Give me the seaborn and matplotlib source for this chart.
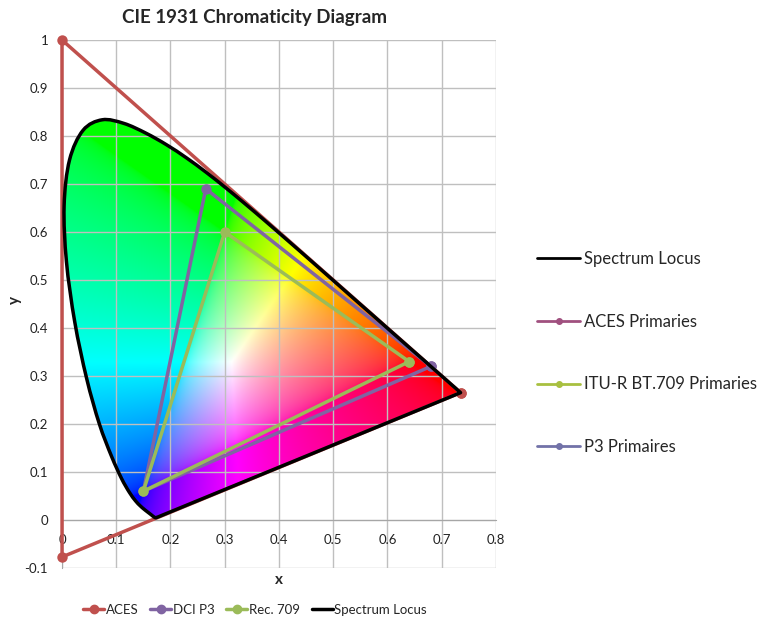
import numpy as np
import matplotlib
matplotlib.use('Agg')
import matplotlib.pyplot as plt
from matplotlib.patches import PathPatch
from matplotlib.path import Path
from matplotlib.lines import Line2D
import seaborn as sns

sns.set_style('white')
plt.rcParams['font.family'] = ['Lato', 'DejaVu Sans']

# CIE 1931 2 degree spectral locus, 380-700 nm in 5 nm steps
locus_x = [0.1741, 0.1740, 0.1738, 0.1736, 0.1733, 0.1730, 0.1726, 0.1721, 0.1714, 0.1703,
           0.1689, 0.1669, 0.1644, 0.1611, 0.1566, 0.1510, 0.1440, 0.1355, 0.1241, 0.1096,
           0.0913, 0.0687, 0.0454, 0.0235, 0.0082, 0.0039, 0.0139, 0.0389, 0.0743, 0.1142,
           0.1547, 0.1929, 0.2296, 0.2658, 0.3016, 0.3373, 0.3731, 0.4087, 0.4441, 0.4788,
           0.5125, 0.5448, 0.5752, 0.6029, 0.6270, 0.6482, 0.6658, 0.6801, 0.6915, 0.7006,
           0.7079, 0.7140, 0.7190, 0.7230, 0.7260, 0.7283, 0.7300, 0.7311, 0.7320, 0.7327,
           0.7334, 0.7340, 0.7344, 0.7346, 0.7347]
locus_y = [0.0050, 0.0050, 0.0049, 0.0049, 0.0048, 0.0048, 0.0048, 0.0048, 0.0051, 0.0058,
           0.0069, 0.0086, 0.0109, 0.0138, 0.0177, 0.0227, 0.0297, 0.0399, 0.0578, 0.0868,
           0.1327, 0.2007, 0.2950, 0.4127, 0.5384, 0.6548, 0.7502, 0.8120, 0.8338, 0.8262,
           0.8059, 0.7816, 0.7543, 0.7243, 0.6923, 0.6589, 0.6245, 0.5896, 0.5547, 0.5202,
           0.4866, 0.4544, 0.4242, 0.3965, 0.3725, 0.3514, 0.3340, 0.3197, 0.3083, 0.2993,
           0.2920, 0.2859, 0.2809, 0.2770, 0.2740, 0.2717, 0.2700, 0.2689, 0.2680, 0.2673,
           0.2666, 0.2660, 0.2656, 0.2654, 0.2653]

# primaries (R, G, B)
aces_x = [0.7347, 0.0, 0.0001]
aces_y = [0.2653, 1.0, -0.077]
p3_x = [0.680, 0.265, 0.150]
p3_y = [0.320, 0.690, 0.060]
rec709_x = [0.64, 0.30, 0.15]
rec709_y = [0.33, 0.60, 0.06]

x_ticks = [0, 0.1, 0.2, 0.3, 0.4, 0.5, 0.6, 0.7, 0.8]
x_labels = ['0', '0.1', '0.2', '0.3', '0.4', '0.5', '0.6', '0.7', '0.8']
y_ticks = [-0.1, 0, 0.1, 0.2, 0.3, 0.4, 0.5, 0.6, 0.7, 0.8, 0.9, 1]
y_labels = ['-0.1', '0', '0.1', '0.2', '0.3', '0.4', '0.5', '0.6', '0.7', '0.8', '0.9', '1']

c_aces = '#C0504D'
c_p3 = '#8064A2'
c_709 = '#9BBB59'


def smooth_path(xs, ys):
    # Excel style "smoothed line": cubic Bezier through the points, then close straight
    p = np.column_stack([xs, ys])
    n = len(p)
    verts = [p[0]]
    codes = [Path.MOVETO]
    for i in range(n - 1):
        p0 = p[max(i - 1, 0)]
        p3 = p[min(i + 2, n - 1)]
        c1 = p[i] + (p[i + 1] - p0) / 6
        c2 = p[i + 1] - (p3 - p[i]) / 6
        verts += [c1, c2, p[i + 1]]
        codes += [Path.CURVE4] * 3
    verts += [p[0], p[0]]
    codes += [Path.LINETO, Path.CLOSEPOLY]
    return Path(np.array(verts), codes)


fig = plt.figure(figsize=(7.81, 6.2), dpi=100)
ax = fig.add_axes([62 / 781, 1 - 568 / 620, (496 - 62) / 781, 528 / 620])

# colour fill of the horseshoe (xy -> sRGB)
gx = np.linspace(0, 0.75, 500)
gy = np.linspace(0, 0.85, 600)
GX, GY = np.meshgrid(gx, gy)
yy = np.maximum(GY, 1e-4)
XYZ = np.stack([GX / yy, np.ones_like(GX), (1 - GX - GY) / yy], axis=-1)
M = np.array([[3.2406, -1.5372, -0.4986],
              [-0.9689, 1.8758, 0.0415],
              [0.0557, -0.2040, 1.0570]])
rgb = XYZ @ M.T
rgb = np.clip(rgb, 0, None)
rgb = rgb / np.maximum(rgb.max(axis=-1, keepdims=True), 1e-6)
rgb = rgb ** (1 / 2.2)

locus_path = smooth_path(locus_x, locus_y)

im = ax.imshow(rgb, origin='lower', extent=[0, 0.75, 0, 0.85], aspect='auto',
               interpolation='bilinear', zorder=0)
clip = PathPatch(locus_path, transform=ax.transData)
im.set_clip_path(clip)

ax.grid(True, color='#BFBFBF', lw=1)
ax.set_axisbelow(True)


def closed(v):
    return list(v) + [v[0]]


for xs, ys, c in [(aces_x, aces_y, c_aces), (p3_x, p3_y, c_p3), (rec709_x, rec709_y, c_709)]:
    sns.lineplot(x=closed(xs), y=closed(ys), sort=False, estimator=None, color=c, lw=2.5,
                 marker='o', markersize=7.5, markeredgewidth=0, ax=ax, zorder=3, clip_on=False)

# spectrum locus outline
ax.add_patch(PathPatch(locus_path, facecolor='none', edgecolor='black', lw=2.5, zorder=4,
                       joinstyle='round'))

ax.set_xlim(0, 0.8)
ax.set_ylim(-0.1, 1)
ax.set_xticks(x_ticks, x_labels)
ax.set_yticks(y_ticks, y_labels)
ax.tick_params(axis='both', labelsize=9.5, color='#A6A6A6', length=4, direction='out',
               pad=6, labelcolor='#222222')
for s in ['top', 'right']:
    ax.spines[s].set_visible(False)
ax.spines['bottom'].set_position(('data', 0))
ax.spines['bottom'].set_color('#A6A6A6')
ax.spines['left'].set_color('#A6A6A6')
ax.set_xlabel('')
ax.set_ylabel('')

ax.text(0.5, -12 / 528, 'x', transform=ax.transAxes, ha='center', va='center',
        fontsize=11, fontweight='bold')
fig.text(15 / 781, 1 - 300 / 620, 'y', rotation=90, ha='center', va='center',
         fontsize=11, fontweight='bold')
fig.text(254 / 781, 1 - 18 / 620, 'CIE 1931 Chromaticity Diagram', ha='center', va='center',
         fontsize=13.5, fontweight='bold')

# bottom legend
h1 = [Line2D([], [], color=c_aces, lw=2.5, marker='o', markersize=6),
      Line2D([], [], color=c_p3, lw=2.5, marker='o', markersize=6),
      Line2D([], [], color=c_709, lw=2.5, marker='o', markersize=6),
      Line2D([], [], color='black', lw=2.5)]
fig.legend(h1, ['ACES', 'DCI P3', 'Rec. 709', 'Spectrum Locus'], loc='center',
           bbox_to_anchor=(255 / 781, 1 - 610 / 620), ncol=4, frameon=False, fontsize=9.5,
           handlelength=1.6, columnspacing=0.9, handletextpad=0.1)

# right legend
h2 = [Line2D([], [], color='black', lw=2),
      Line2D([], [], color='#A0507F', lw=2, marker='o', markersize=4),
      Line2D([], [], color='#A8C040', lw=2, marker='o', markersize=4),
      Line2D([], [], color='#7272A8', lw=2, marker='o', markersize=4)]
fig.legend(h2, ['Spectrum Locus', 'ACES Primaries', 'ITU-R BT.709 Primaries', 'P3 Primaires'],
           loc='center left', bbox_to_anchor=(522 / 781, 1 - 353 / 620), frameon=False,
           fontsize=12, handlelength=2.6, labelspacing=2.8, handletextpad=0.2)

fig.savefig('out.png', dpi=100)
